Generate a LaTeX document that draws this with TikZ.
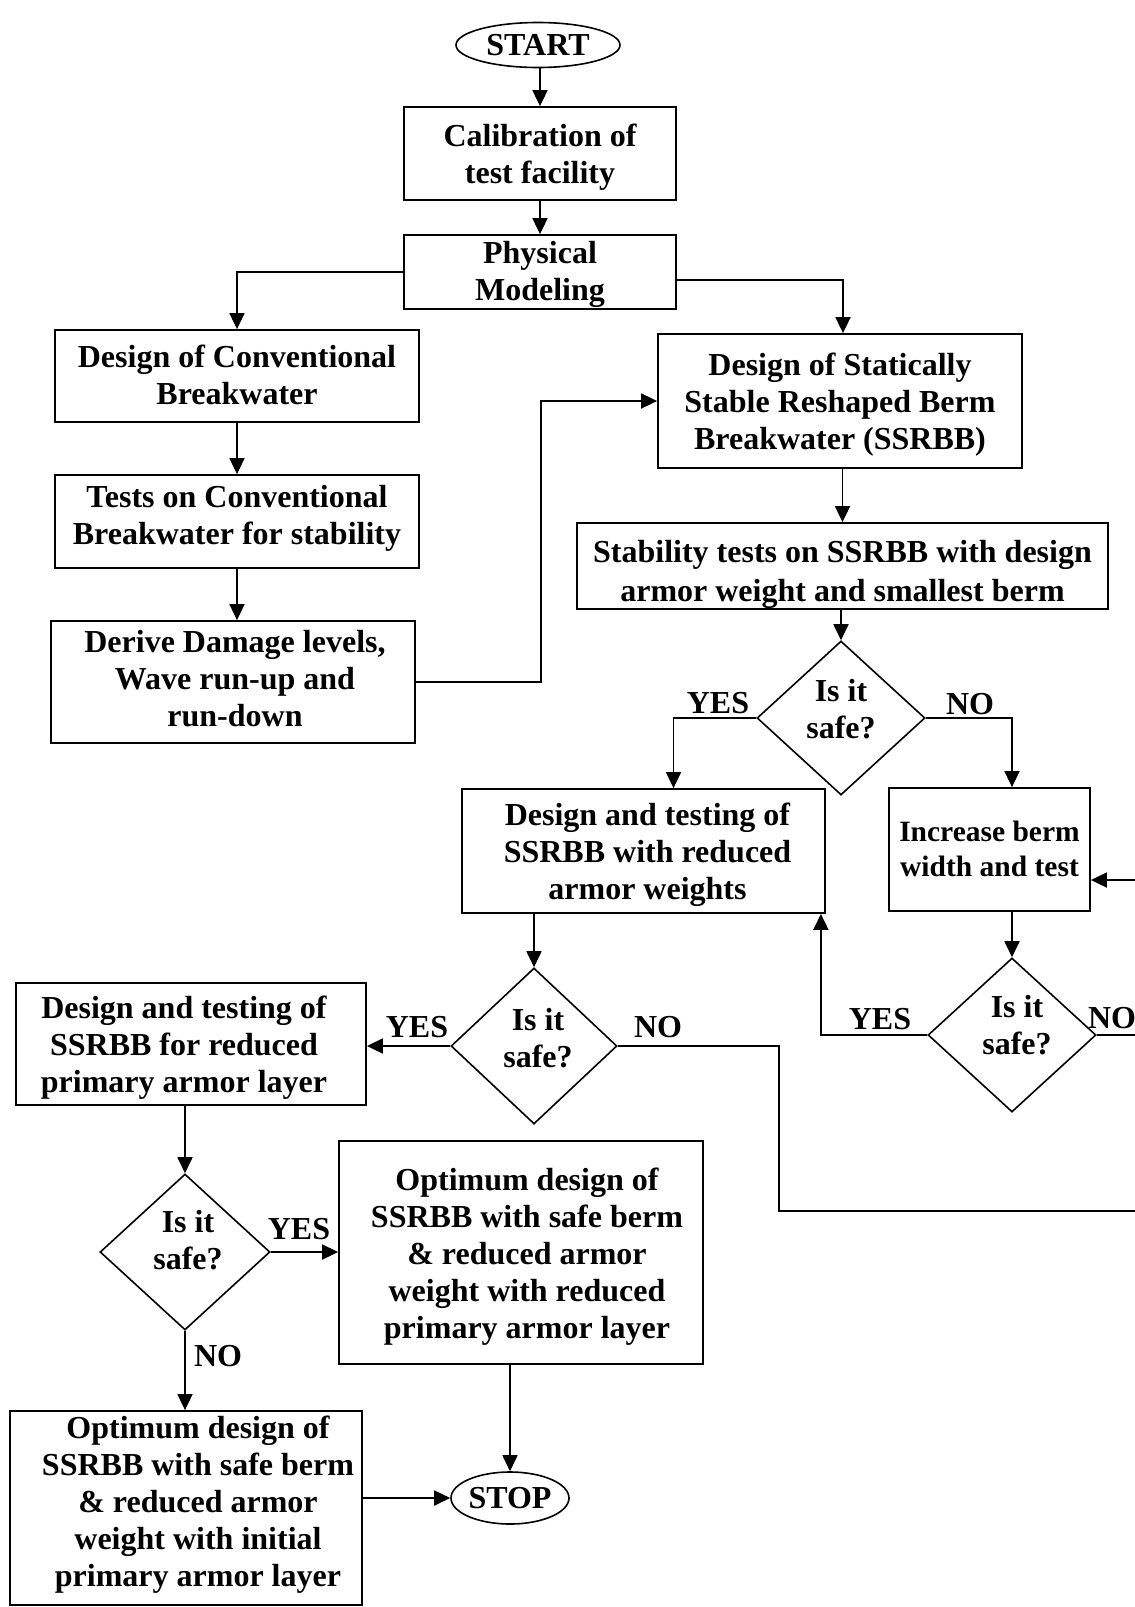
\documentclass[tikz,border=0pt]{standalone}
\usepackage{fontspec}
\setmainfont{Liberation Serif}
\usetikzlibrary{shapes.geometric,arrows.meta,calc}
\newcommand{\tb}[3]{\raisebox{#2}[\height][\depth]{\hbox{\kern#1\begin{tabular}{@{}c@{}}#3\end{tabular}\kern-#1}}}
\begin{document}
\begin{tikzpicture}[x=1pt,y=-1pt,
  every node/.style={font=\fontsize{32}{37}\selectfont\bfseries},
  box/.style={draw,line width=1.8pt,inner sep=0pt,align=center},
  dec/.style={draw,diamond,line width=1.6pt,inner sep=0pt,align=center},
  term/.style={draw,ellipse,line width=1.6pt,inner sep=0pt,align=center},
  arr/.style={line width=1.8pt,-{Triangle[length=16pt,width=15pt]}},
  ln/.style={line width=1.8pt},
  lab/.style={inner sep=0pt}]
\useasboundingbox (0,0) rectangle (1135,1607);
\clip (0,0) rectangle (1135,1607);

\node[term,minimum width=164pt,minimum height=45pt] (start) at (538,45) {START};
\node[box,minimum width=272pt,minimum height=93pt] (calib) at (540,153.5) {\tb{0pt}{-4pt}{Calibration of\\test facility}};
\node[box,minimum width=272pt,minimum height=72pt] (phys) at (540,272) {\tb{0pt}{-3pt}{Physical\\Modeling}};
\node[box,minimum width=364pt,minimum height=92pt] (conv) at (237,376) {\tb{0pt}{-3pt}{Design of Conventional\\Breakwater}};
\node[box,minimum width=364pt,minimum height=93pt] (tests) at (237,521.5) {\tb{0pt}{2.5pt}{Tests on Conventional\\Breakwater for stability}};
\node[box,minimum width=364pt,minimum height=122pt] (derive) at (233,682) {\tb{2pt}{0pt}{Derive Damage levels,\\Wave run-up and\\run-down}};
\node[box,minimum width=364pt,minimum height=134pt] (stat) at (840,401) {\tb{0pt}{-4pt}{Design of Statically\\Stable Reshaped Berm\\Breakwater (SSRBB)}};
\node[box,minimum width=531pt,minimum height=86pt,font=\fontsize{32}{39}\selectfont\bfseries] (stab) at (842.5,566) {\tb{0pt}{-8pt}{Stability tests on SSRBB with design\\armor weight and smallest berm}};
\node[dec,minimum width=168pt,minimum height=154pt] (d1) at (841,718) {\tb{0pt}{5pt}{Is it\\safe?}};
\node[box,minimum width=363pt,minimum height=124pt] (red) at (643.5,851) {\tb{4pt}{-4pt}{Design and testing of\\SSRBB with reduced\\armor weights}};
\node[box,minimum width=201pt,minimum height=123pt,font=\fontsize{29.5}{35}\selectfont\bfseries] (inc) at (989.5,849.5) {\tb{0pt}{-2pt}{Increase berm\\width and test}};
\node[dec,minimum width=166pt,minimum height=156pt] (d2) at (534,1046) {\tb{4pt}{4pt}{Is it\\safe?}};
\node[dec,minimum width=168pt,minimum height=154pt] (d3) at (1012,1035) {\tb{5pt}{6pt}{Is it\\safe?}};
\node[box,minimum width=350pt,minimum height=122pt] (prim) at (191,1044) {\tb{-7pt}{-4pt}{Design and testing of\\SSRBB for reduced\\primary armor layer}};
\node[dec,minimum width=170pt,minimum height=156pt] (d4) at (185,1252) {\tb{3pt}{8.5pt}{Is it\\safe?}};
\node[box,minimum width=364pt,minimum height=223pt] (opt1) at (521,1252.5) {\tb{6pt}{-5pt}{Optimum design of\\SSRBB with safe berm\\\& reduced armor\\weight with reduced\\primary armor layer}};
\node[box,minimum width=352pt,minimum height=194pt] (opt2) at (186,1508) {\tb{12pt}{3pt}{Optimum design of\\SSRBB with safe berm\\\& reduced armor\\weight with initial\\primary armor layer}};
\node[term,minimum width=118pt,minimum height=52pt] (stop) at (510,1498) {STOP};

\coordinate (eIn) at (1140,880);
\coordinate (eD3) at (1140,1035);
\coordinate (kD2) at (779,1211);
\coordinate (eD2) at (1140,1211);

\draw[arr] (calib.north |- start.south) -- (calib.north);
\draw[arr] (calib) -- (phys);
\draw[arr] (phys.west) -| (conv.north);
\draw[arr] ([yshift=-8pt]phys.east) -| ([xshift=3pt]stat.north);
\draw[arr] (conv) -- (tests);
\draw[arr] (tests.south) -- (tests.south |- derive.north);
\draw[arr] (derive.east) -- ++(125,0) |- (stat.west);
\draw[arr] (stat.south -| stab.north) -- (stab.north);
\draw[arr] (d1.north |- stab.south) -- (d1.north);
\draw[arr] (d1.west) -| ([xshift=30pt]red.north);
\draw[arr] (d1.east) -| (d3.north |- inc.north);
\draw[arr] (d3.north |- inc.south) -- (d3.north);
\draw[arr] (d3.west) -| ([xshift=-5pt]red.south east);
\draw[ln] (d3.east) -- (eD3);
\draw[arr] (eIn) -- (eIn -| inc.east);
\draw[arr] (d2.north |- red.south) -- (d2.north);
\draw[arr] (d2.west) -- (d2.west -| prim.east);
\draw[ln] (d2.east) -| (kD2) -- (eD2);
\draw[arr] (d4.north |- prim.south) -- (d4.north);
\draw[arr] (d4.east) -- (d4.east -| opt1.west);
\draw[arr] (d4.south) -- (d4.south |- opt2.north);
\draw[arr] (stop.north |- opt1.south) -- (stop.north);
\draw[arr] (opt2.east |- stop.west) -- (stop.west);

\node[lab] (y1) at (718,703) {YES};
\node[lab] (n1) at (970,704) {NO};
\node[lab] (y2) at (417,1027) {YES};
\node[lab] (n2) at (658,1027) {NO};
\node[lab] (y3) at (880,1019) {YES};
\node[lab] (n3) at (1112,1018) {NO};
\node[lab] (y4) at (299,1229) {YES};
\node[lab] (n4) at (218,1356) {NO};
\end{tikzpicture}
\end{document}
